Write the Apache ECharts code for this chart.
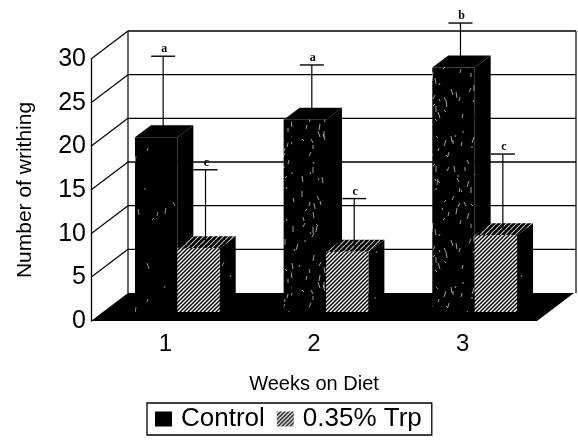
<!DOCTYPE html>
<html>
<head>
<meta charset="utf-8">
<style>html,body{margin:0;padding:0;background:#fff}#c{width:578px;height:440px}</style>
<script src="https://cdn.jsdelivr.net/npm/echarts@6/dist/echarts.min.js"></script>
</head>
<body>
<div id="c"></div>
<script>
var weeks = ['1', '2', '3'];
var yTicks = [0, 5, 10, 15, 20, 25, 30];
var controlValues = [20.0, 22.0, 28.0];
var trpValues = [7.3, 6.9, 8.8];
var controlUpper = [28.6, 27.6, 32.4];
var trpUpper = [15.6, 12.3, 17.4];
var controlLetters = ['a', 'a', 'b'];
var trpLetters = ['c', 'c', 'c'];

var FONT = '"Liberation Sans", Arial, sans-serif';
var DEPTH = [37, -28], PLANE = [12, -9], BAR = [16, -12];

function tile(w, h, draw) {
  var cv = document.createElement('canvas');
  cv.width = w; cv.height = h;
  draw(cv.getContext('2d'), w, h);
  return { image: cv, repeat: 'repeat' };
}
function speckle(count, alpha) {
  return tile(97, 151, function (g, w, h) {
    g.fillStyle = '#000'; g.fillRect(0, 0, w, h);
    g.strokeStyle = 'rgba(255,255,255,' + alpha + ')';
    g.lineWidth = 0.8;
    var s = 12345;
    function next(n) { s = (s * 1103 + 4721) % 65536; return (s >> 4) % n; }
    for (var i = 0; i < count; i++) {
      var x = next(w), y = next(h), d = next(5) - 2, l = 1 + next(6);
      g.beginPath(); g.moveTo(x, y); g.lineTo(x + d, y + l); g.stroke();
    }
  });
}
var hatch = tile(4, 4, function (g) {
  g.fillStyle = '#fff'; g.fillRect(0, 0, 4, 4);
  g.strokeStyle = '#000'; g.lineWidth = 1.4;
  [[-1, 1, 1, -1], [0, 4, 4, 0], [3, 5, 5, 3]].forEach(function (s) {
    g.beginPath(); g.moveTo(s[0], s[1]); g.lineTo(s[2], s[3]); g.stroke();
  });
});
var sparse = speckle(14, 0.7), dense = speckle(130, 0.8), sideSpeck = speckle(30, 0.7);
var hatchTop = tile(5, 5, function (g) {
  g.fillStyle = '#000'; g.fillRect(0, 0, 5, 5);
  g.strokeStyle = '#bbb'; g.lineWidth = 1.2;
  g.beginPath(); g.moveTo(0, 5); g.lineTo(5, 0); g.stroke();
});

function seg(x1, y1, x2, y2, w) {
  return { type: 'line', shape: { x1: x1, y1: y1, x2: x2, y2: y2 },
           style: { stroke: '#000', lineWidth: w || 1.2 } };
}
function poly(pts, fill) {
  return { type: 'polygon', shape: { points: pts }, style: { fill: fill, stroke: null } };
}

function renderWall(params, api) {
  var v = api.value(0), cs = params.coordSys;
  var y = api.coord([0, v])[1], xl = cs.x, xr = cs.x + cs.width;
  var bx = xl + DEPTH[0], by = y + DEPTH[1], brx = xr + DEPTH[0];
  var kids = [seg(xl, y, bx, by), seg(bx, by, brx + 2, by, 1.4)];
  if (v === yTicks[0]) {
    kids = [poly([[xl, y], [xr, y], [brx, by], [bx, by]], '#000')];
    var topY = api.coord([0, yTicks[yTicks.length - 1]])[1] + DEPTH[1];
    kids.push(seg(bx, by, bx, topY), seg(brx + 2, by, brx + 2, topY));
  }
  return { type: 'group', children: kids };
}

function makeBar(values, upper, letters, side, faces) {
  return function (params, api) {
    var i = params.dataIndex, c = api.coord([i, 0]), t = api.coord([i, values[i]]);
    var w = api.size([1, 0])[0] * 0.285;
    var x0 = c[0] + PLANE[0] + (side < 0 ? -w : 0), x1 = x0 + w;
    var yb = c[1] + PLANE[1], yt = t[1] + PLANE[1];
    var dx = BAR[0], dy = BAR[1];
    var front = typeof faces.front === 'function' ? faces.front(i) : faces.front;
    var kids = [
      poly([[x1, yb], [x1 + dx, yb + dy], [x1 + dx, yt + dy], [x1, yt]], faces.side),
      poly([[x0, yt], [x1, yt], [x1 + dx, yt + dy], [x0 + dx, yt + dy]], faces.top),
      poly([[x0, yb], [x1, yb], [x1, yt], [x0, yt]], front)
    ];
    var sx = (x0 + x1) / 2 + 7, sy = yt + dy / 2;
    var u = api.coord([i, upper[i]])[1] + PLANE[1] + dy / 2;
    kids.push(seg(sx, sy, sx, u), seg(sx - 12, u, sx + 12, u, 1.4));
    kids.push({ type: 'text', style: { x: sx + 1, y: u - 1, text: letters[i], fill: '#000',
      font: 'bold 12px "Liberation Serif", serif', textAlign: 'center', textVerticalAlign: 'bottom' } });
    return { type: 'group', children: kids };
  };
}

var chart = echarts.init(document.getElementById('c'), null, { renderer: 'canvas' });
chart.setOption({
  animation: false,
  backgroundColor: '#fff',
  grid: { left: 91, right: 41, top: 59, bottom: 119, containLabel: false },
  xAxis: {
    type: 'category', data: weeks,
    axisLine: { show: false }, axisTick: { show: false }, splitLine: { show: false },
    axisLabel: { color: '#000', fontFamily: FONT, fontSize: 24, margin: 11 },
    name: 'Weeks on Diet', nameLocation: 'middle', nameGap: 53,
    nameTextStyle: { color: '#000', fontFamily: FONT, fontSize: 20 }
  },
  yAxis: {
    type: 'value', min: 0, max: 30, interval: 5,
    axisLine: { show: true, lineStyle: { color: '#000', width: 1.3 } },
    axisTick: { show: false }, splitLine: { show: false },
    axisLabel: { color: '#000', fontFamily: FONT, fontSize: 25, margin: 5 },
    name: 'Number of writhing', nameLocation: 'middle', nameGap: 55,
    nameTextStyle: { color: '#000', fontFamily: FONT, fontSize: 21 }
  },
  legend: {
    left: 147, top: 403, orient: 'horizontal', padding: [3, 10, 3, 8],
    itemWidth: 17, itemHeight: 15, itemGap: 12, selectedMode: false,
    borderColor: '#000', borderWidth: 1.3, borderRadius: 0,
    textStyle: { color: '#000', fontFamily: FONT, fontSize: 26, padding: [0, 0, 0, 4] },
    data: [
      { name: 'Control', icon: 'rect', itemStyle: { color: sparse } },
      { name: '0.35% Trp', icon: 'rect', itemStyle: { color: hatch } }
    ]
  },
  series: [
    { type: 'custom', name: 'wall', silent: true, z: 1, clip: false,
      data: yTicks.map(function (v) { return [v]; }),
      encode: { y: 0 }, renderItem: renderWall },
    { type: 'custom', name: 'Control', silent: true, z: 2, clip: false,
      itemStyle: { color: '#000' },
      data: controlValues.map(function (v, i) { return [i, v]; }),
      encode: { x: 0, y: 1 },
      renderItem: makeBar(controlValues, controlUpper, controlLetters, -1,
        { side: '#000', top: '#000', front: function (i) { return i === 0 ? sparse : dense; } }) },
    { type: 'custom', name: '0.35% Trp', silent: true, z: 3, clip: false,
      itemStyle: { color: '#777' },
      data: trpValues.map(function (v, i) { return [i, v]; }),
      encode: { x: 0, y: 1 },
      renderItem: makeBar(trpValues, trpUpper, trpLetters, 1,
        { side: sideSpeck, top: hatchTop, front: hatch }) }
  ]
});
</script>
</body>
</html>
